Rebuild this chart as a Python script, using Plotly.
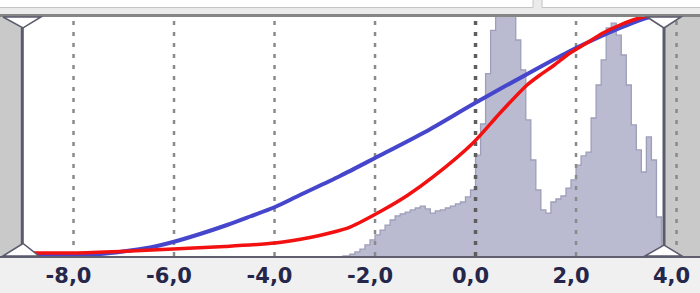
import plotly.graph_objects as go

# ---------------- data ----------------
# histogram: bin centres and relative heights (fraction of plot height)
HIST_X = [-2.65, -2.55, -2.45, -2.35, -2.25, -2.15, -2.05, -1.95, -1.85, -1.75, -1.65,
          -1.55, -1.45, -1.35, -1.25, -1.15, -1.05, -0.95, -0.85, -0.75, -0.65,
          -0.55, -0.45, -0.35, -0.25, -0.15, -0.05, 0.05, 0.15, 0.25, 0.35,
          0.45, 0.55, 0.65, 0.75, 0.85, 0.95, 1.05, 1.15, 1.25, 1.35,
          1.45, 1.55, 1.65, 1.75, 1.85, 1.95, 2.05, 2.15, 2.25, 2.35,
          2.45, 2.55, 2.65, 2.75, 2.85, 2.95, 3.05, 3.15, 3.25, 3.35,
          3.45, 3.55, 3.65, 3.75]
HIST_H = [0.0, 0.0, 0.008, 0.017, 0.029, 0.046, 0.067, 0.088, 0.108, 0.129, 0.15,
          0.167, 0.175, 0.183, 0.192, 0.2, 0.208, 0.196, 0.179, 0.188, 0.192,
          0.2, 0.208, 0.217, 0.225, 0.246, 0.275, 0.42, 0.55, 0.76, 0.94,
          1.1, 1.2, 1.25, 1.2, 0.9, 0.775, 0.567, 0.4, 0.275, 0.192,
          0.179, 0.225, 0.2375, 0.25, 0.283, 0.317, 0.379, 0.417, 0.433, 0.575,
          0.7125, 0.817, 0.95, 0.97, 0.92, 0.8375, 0.7125, 0.546, 0.442, 0.35,
          0.496, 0.4, 0.1625, 0.0]

# empirical cumulative curve (red)
RED_X = [-8.965, -8.01, -7.075, -6.02, -4.985, -3.99, -3.294, -2.9, -2.498, -1.841,
         -1.343, -0.846, -0.05, 0.488, 1.025, 1.284, 1.542, 1.881, 2.179, 2.537,
         2.876, 3.134, 3.373, 3.532]
RED_Y = [0.0125, 0.0125, 0.0188, 0.0292, 0.0396, 0.0542, 0.0771, 0.0958, 0.1208, 0.1917,
         0.2542, 0.3292, 0.4708, 0.5958, 0.7125, 0.7542, 0.7917, 0.8458, 0.8833, 0.9292,
         0.9625, 0.9833, 0.9979, 1.0]

# fitted cumulative curve (blue)
BLUE_X = [-8.965, -8.01, -7.473, -7.015, -6.478, -6.02, -5.483, -4.945, -4.488, -3.99,
          -3.493, -2.697, -2.0, -1.005, -0.01, 1.284, 1.881, 2.378, 2.876, 3.274, 3.532]
BLUE_Y = [0.004, 0.004, 0.0083, 0.0188, 0.0354, 0.0583, 0.0917, 0.1292, 0.1646, 0.2042,
          0.2542, 0.3333, 0.4083, 0.5167, 0.6375, 0.7875, 0.8542, 0.9042, 0.95, 0.9833, 1.0]

GRID_X = [-8, -6, -4, -2, 2, 4]
ZERO_X = [0]
TICK_VALS = [-8, -6, -4, -2, 0, 2, 4]
TICK_LABELS = ["-8,0", "-6,0", "-4,0", "-2,0", "0,0", "2,0", "4,0"]

X_RANGE = [-9.463, 4.467]

# ---------------- figure ----------------
W, H = 700, 293
T, B = 16, 37


def px(x):
    return x / W


def py(y):
    return (H - B - y) / (H - T - B)


fig = go.Figure()

fig.add_trace(go.Scatter(
    x=HIST_X, y=HIST_H, mode="lines", line_shape="hvh",
    line=dict(color="#9d9eb9", width=1.3),
    fill="tozeroy", fillcolor="#babbd0", hoverinfo="skip", showlegend=False))


def vlines(xs):
    gx, gy = [], []
    for v in xs:
        gx += [v, v, None]
        gy += [0, 1, None]
    return gx, gy


gx, gy = vlines(GRID_X)
fig.add_trace(go.Scatter(x=gx, y=gy, mode="lines",
                         line=dict(color="#8a8a8a", width=2.5, dash="4px,7px"),
                         hoverinfo="skip", showlegend=False))
zx, zy = vlines(ZERO_X)
fig.add_trace(go.Scatter(x=zx, y=zy, mode="lines",
                         line=dict(color="#5e5e5e", width=3.5, dash="4px,7px"),
                         hoverinfo="skip", showlegend=False))

fig.add_trace(go.Scatter(x=BLUE_X, y=BLUE_Y, mode="lines", line_shape="spline",
                         line=dict(color="#4646cc", width=4, smoothing=0.8),
                         hoverinfo="skip", showlegend=False))
fig.add_trace(go.Scatter(x=RED_X, y=RED_Y, mode="lines", line_shape="spline",
                         line=dict(color="#f31010", width=3.5, smoothing=0.7),
                         hoverinfo="skip", showlegend=False))

shapes = []
# gray excluded panels
shapes.append(dict(type="rect", xref="paper", yref="paper", x0=px(0), x1=px(22),
                   y0=py(256), y1=py(16), fillcolor="#c9c9c9", line_width=0, layer="below"))
shapes.append(dict(type="rect", xref="paper", yref="paper", x0=px(664), x1=px(700),
                   y0=py(256), y1=py(16), fillcolor="#c9c9c9", line_width=0, layer="below"))
# top strip
shapes.append(dict(type="rect", xref="paper", yref="paper", x0=0, x1=1,
                   y0=py(16), y1=py(0), fillcolor="#ebebeb", line_width=0, layer="above"))
shapes.append(dict(type="rect", xref="paper", yref="paper", x0=px(-2), x1=px(533),
                   y0=py(7.5), y1=py(-2), fillcolor="#ffffff",
                   line=dict(color="#c4c4c4", width=1), layer="above"))
shapes.append(dict(type="rect", xref="paper", yref="paper", x0=px(542), x1=px(702),
                   y0=py(7.5), y1=py(-2), fillcolor="#ffffff",
                   line=dict(color="#c4c4c4", width=1), layer="above"))
shapes.append(dict(type="line", xref="paper", yref="paper", x0=0, x1=1,
                   y0=py(15.5), y1=py(15.5), line=dict(color="#858585", width=3), layer="above"))
# handle lines
for hx in (22.3, 664):
    shapes.append(dict(type="line", xref="paper", yref="paper", x0=px(hx), x1=px(hx),
                       y0=py(256), y1=py(17), line=dict(color="#5b5b6e", width=3), layer="above"))


def tri(pts):
    s = "M " + " L ".join(f"{px(a):.5f},{py(b):.5f}" for a, b in pts) + " Z"
    return dict(type="path", xref="paper", yref="paper", path=s, fillcolor="#ffffff",
                line=dict(color="#5b5b6e", width=1.5), layer="above")


shapes.append(tri([(3, 17), (23, 28), (41, 17)]))
shapes.append(tri([(3, 256), (23, 243.5), (39, 256)]))
shapes.append(tri([(647, 17), (664, 28), (681, 17)]))
shapes.append(tri([(645, 256), (664, 245), (682, 256)]))

fig.update_layout(
    width=W, height=H,
    margin=dict(l=0, r=0, t=T, b=B, pad=0),
    paper_bgcolor="#f0f0f0", plot_bgcolor="#ffffff",
    shapes=shapes,
    xaxis=dict(range=X_RANGE, showgrid=False, zeroline=False,
               showline=True, linecolor="#5f5f70", linewidth=2,
               tickmode="array", tickvals=TICK_VALS, ticktext=TICK_LABELS,
               ticks="", ticklabelshift=-5,
               tickfont=dict(family="DejaVu Sans", size=21, color="#26264a", weight="bold")),
    yaxis=dict(range=[0, 1], visible=False, fixedrange=True),
)

fig.write_html("out.html")
